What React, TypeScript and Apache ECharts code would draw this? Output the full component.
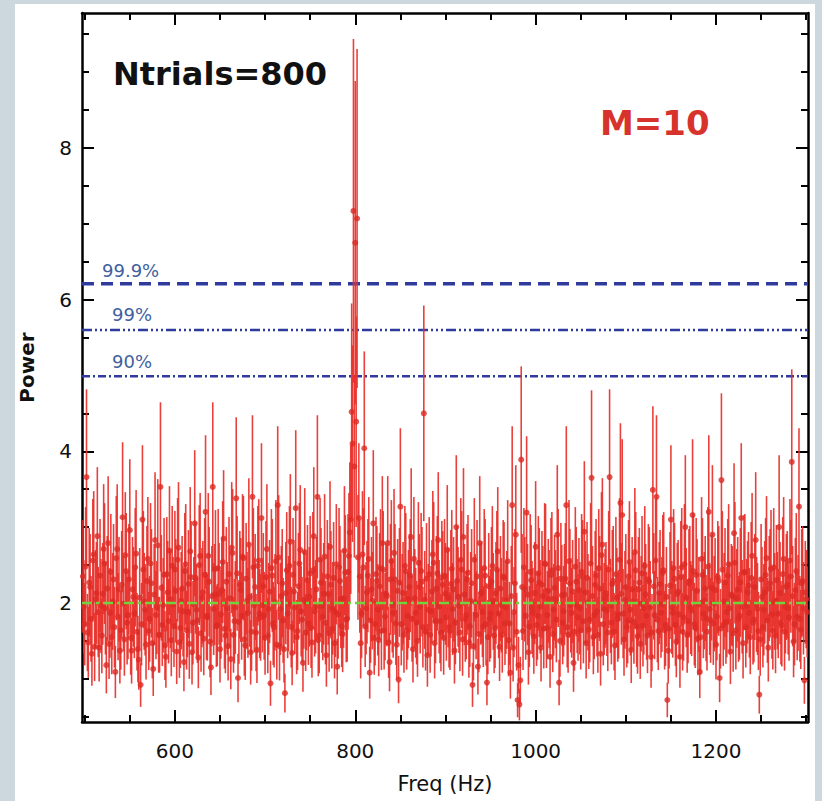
import React, { useEffect, useRef } from "react";
import * as echarts from "echarts";

// ---- data ----
const M = 10; // number of averaged spectra (error = P / sqrt(M))
const F_STEP = 2; // Hz between bins inside each list
const F_START_EVEN = 498; // Hz, first bin of the even list
const F_START_ODD = 499; // Hz, first bin of the odd list

// power at even frequencies, one row per 50 Hz, starting at 498 Hz
const powerEvenRows: number[][] = [
  [2.35, 1.72, 3.66, 1.48, 2.21, 1.33, 2.64, 2.05, 2.88, 1.41, 1.96, 2.12, 2.52, 1.18, 2.79, 1.87, 1.55, 2.31, 1.09, 2.71, 2.18, 1.64, 3.13, 1.52, 2.42],
  [1.84, 2.96, 1.37, 2.08, 2.47, 1.62, 1.25, 0.92, 3.1, 2.02, 1.45, 2.58, 1.79, 2.26, 1.13, 2.83, 1.94, 1.58, 3.53, 1.71, 2.37, 1.29, 2.14, 2.69, 1.51],
  [1.98, 2.44, 1.36, 2.73, 1.67, 2.19, 1.22, 2.51, 1.88, 1.46, 2.34, 1.74, 3.05, 1.91, 1.28, 2.62, 2.07, 1.53, 3.2, 1.81, 2.28, 1.15, 3.53, 2.11, 1.69],
  [2.46, 1.39, 2.17, 2.85, 1.57, 1.93, 2.38, 1.26, 2.66, 1.76, 3.38, 1.01, 2.24, 1.83, 2.59, 1.44, 2.03, 2.77, 1.35, 3.4, 1.97, 1.61, 2.49, 1.86, 3.12],
  [2.22, 1.54, 2.71, 1.92, 0.94, 2.36, 1.68, 2.55, 3.29, 1.43, 2.09, 1.77, 0.81, 2.43, 1.99, 2.81, 1.34, 2.15, 3.25, 1.63, 2.52, 1.89, 1.21, 2.67, 2.01],
  [1.73, 2.39, 1.48, 2.88, 1.95, 3.4, 1.57, 2.27, 1.82, 2.61, 1.31, 2.12, 2.74, 1.66, 2.33, 1.88, 1.16, 2.47, 2.05, 1.59, 2.69, 1.78, 2.41, 2.93, 4.52],
  [7.17, 6.75, 7.07, 3.12, 1.47, 2.64, 4.04, 1.93, 2.36, 1.08, 2.18, 3.05, 1.72, 2.29, 1.51, 2.46, 2.79, 1.64, 2.12, 2.79, 1.22, 2.55, 1.87, 2.31, 1.45],
  [0.99, 3.27, 2.01, 1.58, 2.42, 1.83, 2.21, 2.87, 1.39, 2.06, 1.74, 2.53, 1.95, 2.28, 4.5, 1.62, 1.31, 2.38, 1.89, 2.64, 1.47, 2.19, 2.83, 1.76, 2.34],
  [1.54, 2.12, 2.7, 1.68, 2.25, 1.92, 1.37, 3.0, 2.08, 1.61, 2.44, 2.87, 1.79, 2.31, 1.48, 2.03, 0.92, 2.57, 1.84, 1.16, 2.79, 2.14, 1.69, 2.36, 0.95],
  [2.22, 1.86, 2.49, 1.57, 2.13, 2.68, 1.42, 1.97, 2.35, 1.73, 2.04, 1.51, 1.08, 3.29, 1.88, 2.9, 0.72, 0.66, 3.89, 1.63, 2.18, 3.19, 1.35, 2.41, 1.94],
  [1.56, 2.74, 1.83, 2.27, 1.41, 2.09, 2.52, 1.67, 2.16, 1.29, 2.43, 1.91, 2.05, 2.9, 0.95, 2.32, 1.74, 2.11, 3.29, 1.58, 2.26, 1.87, 1.21, 2.48, 1.96],
  [2.17, 1.64, 2.35, 2.94, 1.47, 2.01, 1.78, 3.65, 1.55, 2.24, 1.89, 2.46, 1.33, 2.77, 1.92, 2.13, 1.61, 3.66, 1.74, 2.29, 1.44, 2.07, 1.85, 3.32, 3.16],
  [1.52, 2.21, 1.76, 2.54, 1.38, 2.02, 2.67, 1.69, 2.18, 1.46, 2.39, 1.93, 2.11, 1.57, 2.28, 1.29, 3.49, 1.84, 3.4, 1.63, 2.25, 1.98, 2.43, 1.71, 0.72],
  [1.66, 3.1, 1.87, 2.32, 1.49, 2.15, 1.29, 2.47, 1.81, 3.0, 1.58, 2.26, 1.94, 3.16, 1.72, 2.37, 1.53, 1.09, 2.58, 1.86, 2.19, 1.62, 3.2, 1.77, 2.9],
  [1.99, 1.45, 2.34, 1.01, 3.62, 1.71, 2.27, 1.88, 2.51, 1.36, 2.09, 2.92, 1.64, 2.18, 1.83, 3.12, 1.47, 2.41, 1.96, 2.23, 1.55, 2.62, 1.78, 2.83, 1.92],
  [0.79, 2.31, 1.68, 2.14, 2.59, 1.41, 2.26, 1.85, 2.47, 1.57, 2.03, 3.0, 1.74, 2.38, 1.62, 2.21, 1.93, 2.56, 3.86, 1.49, 2.17, 1.82, 3.27, 1.65, 2.29],
  [0.98, 2.05],
];

// power at odd frequencies, one row per 50 Hz, starting at 499 Hz
const powerOddRows: number[][] = [
  [1.95, 2.48, 1.61, 2.27, 1.79, 2.56, 1.42, 2.13, 1.88, 2.36, 1.57, 2.71, 1.93, 2.19, 1.46, 2.41, 2.02, 1.68, 2.59, 1.82, 1.37, 2.24, 1.99, 2.63, 1.74],
  [2.31, 1.54, 2.18, 1.86, 2.65, 1.39, 2.07, 1.72, 2.44, 1.91, 2.29, 1.63, 2.52, 1.47, 2.11, 1.84, 2.76, 1.58, 2.2, 1.97, 1.44, 2.38, 1.76, 2.05, 2.49],
  [1.69, 2.16, 2.57, 1.48, 2.03, 1.89, 2.42, 1.64, 2.25, 2.68, 1.35, 1.98, 2.33, 1.77, 2.5, 1.6, 2.14, 2.37, 1.83, 2.62, 1.49, 2.09, 1.92, 2.45, 1.71],
  [2.12, 1.85, 2.54, 1.66, 2.28, 1.43, 2.06, 2.73, 1.58, 1.94, 2.39, 1.75, 2.17, 2.61, 1.52, 2.32, 1.87, 2.08, 1.62, 2.47, 2.21, 1.38, 2.56, 1.81, 1.97],
  [1.83, 2.34, 1.57, 2.15, 2.46, 1.73, 2.01, 1.45, 2.6, 1.92, 2.26, 1.39, 2.13, 1.86, 2.49, 1.68, 2.37, 1.94, 1.55, 2.22, 2.7, 1.78, 2.04, 1.61, 2.3],
  [2.08, 1.67, 2.43, 1.89, 2.18, 1.51, 2.57, 1.96, 2.12, 1.74, 2.35, 1.6, 2.24, 1.93, 1.47, 2.51, 1.85, 2.29, 1.69, 2.06, 2.4, 1.79, 2.62, 3.1, 4.1],
  [3.8, 4.39, 2.6, 2.35, 1.86, 2.47, 1.69, 2.14, 2.58, 1.77, 2.03, 1.54, 2.38, 1.91, 2.22, 1.63, 2.44, 1.82, 2.09, 1.48, 2.31, 1.97, 2.66, 1.73, 2.16],
  [2.27, 1.72, 2.13, 2.49, 1.64, 2.05, 2.36, 1.79, 2.58, 1.87, 1.5, 2.21, 2.42, 1.68, 2.04, 2.32, 1.91, 1.58, 2.15, 2.53, 1.76, 2.39, 1.95, 1.61, 2.24],
  [2.36, 1.81, 2.07, 1.63, 2.45, 2.18, 1.74, 2.29, 1.96, 2.57, 1.52, 2.11, 1.84, 2.4, 1.69, 2.26, 1.43, 2.01, 2.35, 1.59, 2.12, 1.88, 2.46, 1.72, 1.55],
  [1.79, 2.28, 2.02, 1.67, 2.44, 1.86, 2.19, 1.58, 2.33, 1.94, 2.55, 1.73, 2.09, 1.41, 2.26, 1.62, 1.18, 0.98, 2.21, 2.47, 1.83, 2.11, 1.69, 2.3, 1.87],
  [2.13, 1.71, 2.39, 1.95, 2.24, 1.66, 2.51, 1.84, 2.05, 2.37, 1.59, 2.2, 1.78, 2.46, 1.5, 2.1, 1.89, 2.32, 1.68, 2.55, 1.97, 2.15, 1.62, 2.28, 1.81],
  [1.93, 2.41, 1.76, 2.14, 2.33, 1.65, 2.52, 2.09, 1.84, 2.36, 1.58, 2.19, 2.63, 1.72, 2.06, 1.9, 2.44, 1.96, 2.25, 1.62, 2.38, 1.79, 2.57, 2.12, 1.86],
  [2.04, 1.68, 2.35, 1.91, 2.18, 1.75, 2.43, 1.56, 2.27, 1.99, 1.7, 2.49, 1.83, 2.31, 1.94, 1.61, 2.22, 2.56, 1.78, 2.13, 1.87, 2.4, 1.64, 2.08, 1.37],
  [2.23, 1.94, 2.46, 1.71, 2.12, 1.85, 2.34, 1.62, 2.51, 2.07, 1.76, 2.29, 1.9, 2.42, 1.67, 2.16, 1.98, 1.55, 2.37, 2.03, 1.8, 2.48, 1.92, 2.2, 1.73],
  [2.17, 1.82, 2.29, 1.66, 2.44, 2.02, 1.75, 2.36, 1.93, 2.11, 1.6, 2.53, 2.06, 1.79, 2.27, 1.95, 2.4, 1.68, 2.14, 1.87, 2.33, 1.74, 2.21, 1.98, 1.63],
  [1.52, 2.08, 1.91, 2.37, 1.77, 2.19, 2.45, 1.64, 2.02, 2.3, 1.86, 2.13, 1.7, 2.58, 1.95, 2.24, 1.81, 2.35, 2.09, 1.72, 2.42, 2.0, 1.79, 2.26, 1.93],
  [2.14, 1.88],
];

// significance levels
const levelNames = ["99.9%", "99%", "90%"];
const levelValues = [6.21, 5.6, 4.99];
const meanLevel = 2.0;

// axes
const X_MIN = 497;
const X_MAX = 1302;
const Y_MIN = 0.43;
const Y_MAX = 9.78;
const xMajorTicks = [600, 800, 1000, 1200];
const xMinorTicks = [500, 550, 650, 700, 750, 850, 900, 950, 1050, 1100, 1150, 1250, 1300];
const yMajorTicks = [2, 4, 6, 8];
const yMinorTicks = [0.5, 1, 1.5, 2.5, 3, 3.5, 4.5, 5, 5.5, 6.5, 7, 7.5, 8.5, 9, 9.5];

const FONT = "DejaVu Sans";
const RED = "#e8302a";

export default function App() {
  const ref = useRef<HTMLDivElement>(null);

  useEffect(() => {
    if (!ref.current) return;
    const chart = echarts.init(ref.current, undefined, { renderer: "svg" });

    const evenP = powerEvenRows.flat();
    const oddP = powerOddRows.flat();
    const evenF = evenP.map((_, i) => F_START_EVEN + i * F_STEP);
    const oddF = oddP.map((_, i) => F_START_ODD + i * F_STEP);
    const allFreq = [...evenF, ...oddF];
    const allPower = [...evenP, ...oddP];
    const k = 1 / Math.sqrt(M);
    const errData = allFreq.map((f, i) => [f, allPower[i] * (1 - k), allPower[i] * (1 + k)]);
    const ptData = allFreq.map((f, i) => [f, allPower[i]]);

    const blank = {
      splitLine: { show: false },
      axisLabel: { show: false },
      axisTick: { show: false },
      axisLine: { show: false },
    };
    const frameLine = { show: true, onZero: false, lineStyle: { color: "#000", width: 2.5 } };
    const majorTick = (vals: number[]) => ({
      show: true,
      inside: true,
      length: 12,
      customValues: vals,
      lineStyle: { color: "#000", width: 2 },
    });
    const minorTick = (vals: number[]) => ({
      show: true,
      inside: true,
      length: 7,
      customValues: vals,
      lineStyle: { color: "#000", width: 2 },
    });

    const xBase = { type: "value", min: X_MIN, max: X_MAX };
    const yBase = { type: "value", min: Y_MIN, max: Y_MAX };

    const levelStyles = [
      { width: 3.5, type: [12, 7] },
      { width: 2.5, type: [10, 3, 2, 3, 2, 3, 2, 3] },
      { width: 2.5, type: [8, 3, 2, 3] },
    ];

    const option: any = {
      animation: false,
      backgroundColor: "transparent",
      grid: { left: 82, right: 14, top: 13, bottom: 79, containLabel: false },
      xAxis: [
        {
          ...xBase,
          ...blank,
          position: "bottom",
          axisLine: frameLine,
          axisTick: majorTick(xMajorTicks),
          axisLabel: {
            show: true,
            customValues: xMajorTicks,
            formatter: (v: number) => String(v),
            fontFamily: FONT,
            fontSize: 20,
            color: "#111",
            margin: 19,
          },
          name: "Freq (Hz)",
          nameLocation: "middle",
          nameGap: 51,
          nameTextStyle: { fontFamily: FONT, fontSize: 21, color: "#111" },
        },
        { ...xBase, ...blank, position: "bottom", axisTick: minorTick(xMinorTicks) },
        { ...xBase, ...blank, position: "top", axisLine: frameLine, axisTick: majorTick(xMajorTicks) },
        { ...xBase, ...blank, position: "top", axisTick: minorTick(xMinorTicks) },
      ],
      yAxis: [
        {
          ...yBase,
          ...blank,
          position: "left",
          axisLine: frameLine,
          axisTick: majorTick(yMajorTicks),
          axisLabel: {
            show: true,
            customValues: yMajorTicks,
            formatter: (v: number) => String(v),
            fontFamily: FONT,
            fontSize: 20,
            color: "#111",
            margin: 10,
          },
          name: "Power",
          nameLocation: "middle",
          nameGap: 45,
          nameTextStyle: { fontFamily: FONT, fontSize: 20, fontWeight: "bold", color: "#111" },
        },
        { ...yBase, ...blank, position: "left", axisTick: minorTick(yMinorTicks) },
        { ...yBase, ...blank, position: "right", axisLine: frameLine, axisTick: majorTick(yMajorTicks) },
        { ...yBase, ...blank, position: "right", axisTick: minorTick(yMinorTicks) },
      ],
      series: [
        ...levelValues.map((v, i) => ({
          type: "line",
          name: levelNames[i],
          data: [
            [X_MIN, v],
            [X_MAX, v],
          ],
          symbol: "none",
          silent: true,
          z: 1,
          lineStyle: { color: "#2e3a9c", width: levelStyles[i].width, type: levelStyles[i].type },
        })),
        {
          type: "custom",
          name: "errors",
          data: errData,
          encode: { x: 0, y: [1, 2] },
          clip: true,
          z: 2,
          renderItem: (params: any, api: any) => {
            const x = api.value(0);
            const p1 = api.coord([x, api.value(1)]);
            const p2 = api.coord([x, api.value(2)]);
            return {
              type: "line",
              shape: { x1: p1[0], y1: p1[1], x2: p2[0], y2: p2[1] },
              style: { stroke: RED, lineWidth: 1.6, opacity: 0.92 },
            };
          },
        },
        {
          type: "scatter",
          name: "power",
          data: ptData,
          symbol: "circle",
          symbolSize: 6,
          z: 3,
          itemStyle: { color: "#dc2a24" },
        },
        {
          type: "line",
          name: "mean",
          data: [
            [X_MIN, meanLevel],
            [X_MAX, meanLevel],
          ],
          symbol: "none",
          silent: true,
          z: 4,
          lineStyle: { color: "#72d23e", width: 2.5, type: [10, 4, 3, 4] },
        },
      ],
      graphic: [
        {
          type: "text",
          left: 113,
          top: 58,
          style: { text: "Ntrials=800", fontFamily: FONT, fontSize: 32, fontWeight: "bold", fill: "#111" },
        },
        {
          type: "text",
          left: 600,
          top: 106,
          style: { text: "M=10", fontFamily: FONT, fontSize: 34, fontWeight: "bold", fill: "#d8322c" },
        },
        {
          type: "text",
          left: 102,
          top: 261,
          style: { text: levelNames[0], fontFamily: FONT, fontSize: 18, fill: "#3f5f9f" },
        },
        {
          type: "text",
          left: 112,
          top: 305,
          style: { text: levelNames[1], fontFamily: FONT, fontSize: 18, fill: "#3f5f9f" },
        },
        {
          type: "text",
          left: 112,
          top: 352,
          style: { text: levelNames[2], fontFamily: FONT, fontSize: 18, fill: "#3f5f9f" },
        },
      ],
    };

    chart.setOption(option);
    return () => chart.dispose();
  }, []);

  return (
    <div style={{ position: "absolute", left: 0, top: 0, width: 822, height: 801, background: "#cdd7de", overflow: "hidden" }}>
      <div style={{ position: "absolute", left: 15, top: 4, width: 800, height: 797, background: "#ffffff" }} />
      <div ref={ref} style={{ position: "absolute", left: 0, top: 0, width: 822, height: 801 }} />
    </div>
  );
}
